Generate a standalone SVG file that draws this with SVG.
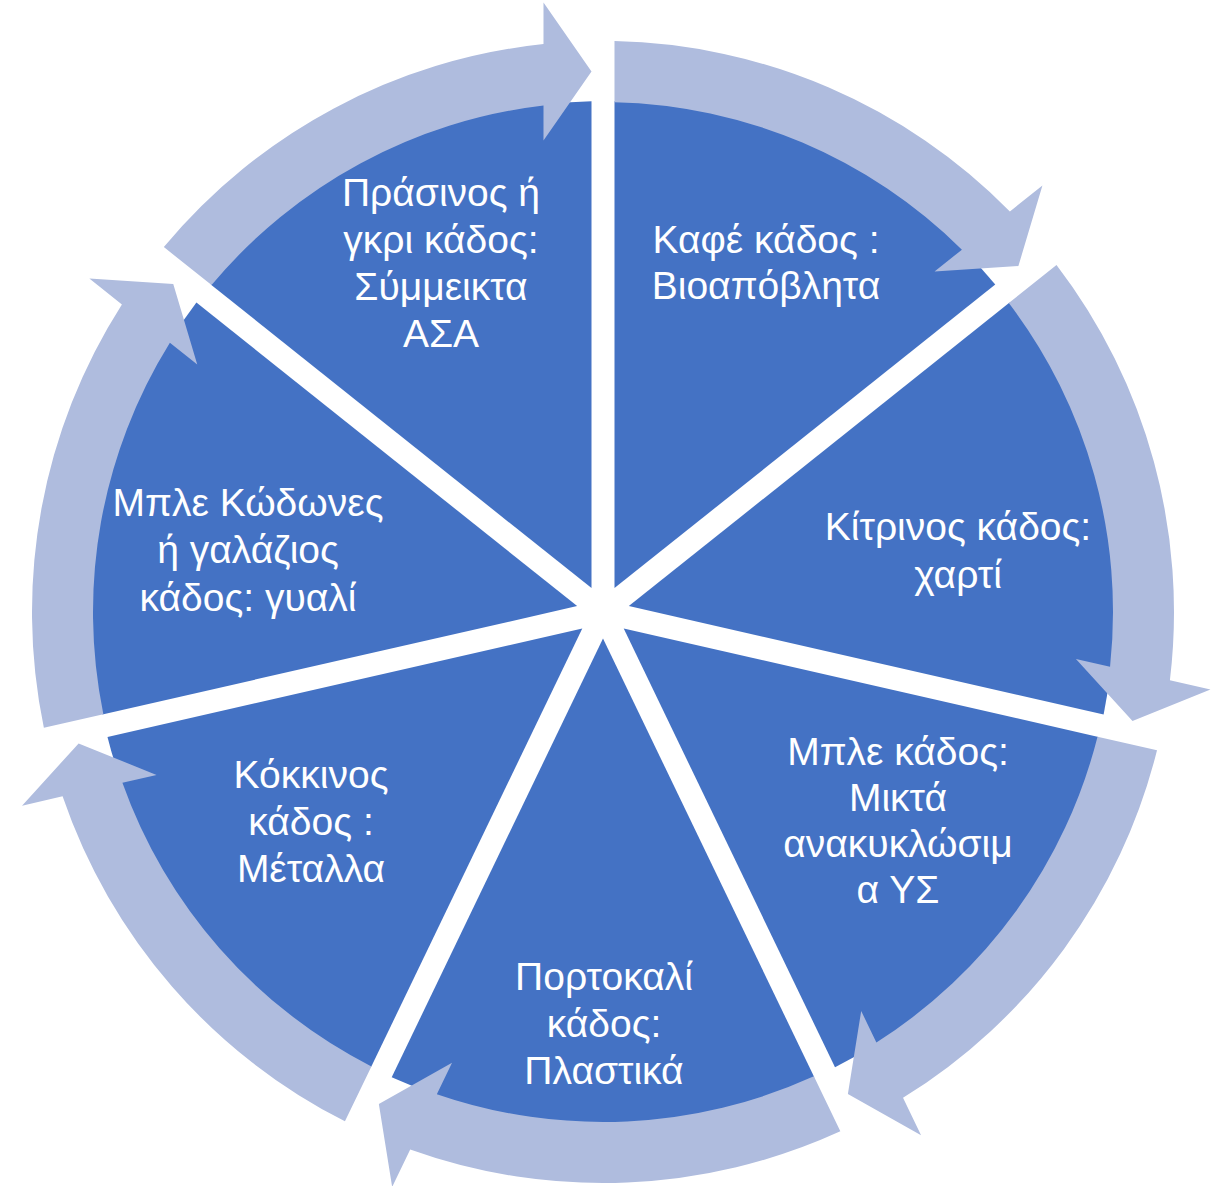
<svg xmlns="http://www.w3.org/2000/svg" width="1220" height="1186" viewBox="0 0 1220 1186">
<style>
.w{fill:#4472C4}
.a{fill:#AFBCDE}
.t{font-family:"Liberation Sans",Arial,sans-serif;font-size:39px;fill:#FFFFFF;text-anchor:middle}
</style>
<defs>
<path id="wedge" d="M26.5,0 L465.27,-211.3 A511,511 0 0 1 465.27,211.3 Z"/>
<path id="arrow" d="M519.34,-237.34 A571,571 0 0 1 537.47,192.79 L574.96,210.84 L491.96,224.15 L450.63,150.96 L482.18,166.16 A510,510 0 0 0 464.37,-210.86 Z"/>
</defs>
<rect width="1220" height="1186" fill="#FFFFFF"/>
<g id="node-kafe">
<use href="#wedge" class="w" transform="translate(603,612) rotate(-64.286)"/>
<text class="t" x="766" y="253">Καφέ κάδος :</text>
<text class="t" x="766" y="299">Βιοαπόβλητα</text>
</g>
<g id="node-kitrinos">
<use href="#wedge" class="w" transform="translate(603,612) rotate(-12.857)"/>
<text class="t" x="958" y="540">Κίτρινος κάδος:</text>
<text class="t" x="958" y="588">χαρτί</text>
</g>
<g id="node-mple">
<use href="#wedge" class="w" transform="translate(603,612) rotate(38.571)"/>
<text class="t" x="898" y="765">Μπλε κάδος:</text>
<text class="t" x="898" y="811">Μικτά</text>
<text class="t" x="898" y="857">ανακυκλώσιμ</text>
<text class="t" x="898" y="903">α ΥΣ</text>
</g>
<g id="node-portokali">
<use href="#wedge" class="w" transform="translate(603,612) rotate(90)"/>
<text class="t" x="604" y="990">Πορτοκαλί</text>
<text class="t" x="604" y="1037">κάδος:</text>
<text class="t" x="604" y="1084">Πλαστικά</text>
</g>
<g id="node-kokkinos">
<use href="#wedge" class="w" transform="translate(603,612) rotate(141.429)"/>
<text class="t" x="311" y="788">Κόκκινος</text>
<text class="t" x="311" y="835">κάδος :</text>
<text class="t" x="311" y="882">Μέταλλα</text>
</g>
<g id="node-kodones">
<use href="#wedge" class="w" transform="translate(603,612) rotate(192.857)"/>
<text class="t" x="248" y="516">Μπλε Κώδωνες</text>
<text class="t" x="248" y="563">ή γαλάζιος</text>
<text class="t" x="248" y="611">κάδος: γυαλί</text>
</g>
<g id="node-prasinos">
<use href="#wedge" class="w" transform="translate(603,612) rotate(244.286)"/>
<text class="t" x="441" y="206">Πράσινος ή</text>
<text class="t" x="441" y="253">γκρι κάδος:</text>
<text class="t" x="441" y="300">Σύμμεικτα</text>
<text class="t" x="441" y="347">ΑΣΑ</text>
</g>
<g id="connectors">
<use href="#arrow" class="a" transform="translate(603,612) rotate(-64.286)"/>
<use href="#arrow" class="a" transform="translate(603,612) rotate(-12.857)"/>
<use href="#arrow" class="a" transform="translate(603,612) rotate(38.571)"/>
<use href="#arrow" class="a" transform="translate(603,612) rotate(90)"/>
<use href="#arrow" class="a" transform="translate(603,612) rotate(141.429)"/>
<use href="#arrow" class="a" transform="translate(603,612) rotate(192.857)"/>
<use href="#arrow" class="a" transform="translate(603,612) rotate(244.286)"/>
</g>
</svg>
